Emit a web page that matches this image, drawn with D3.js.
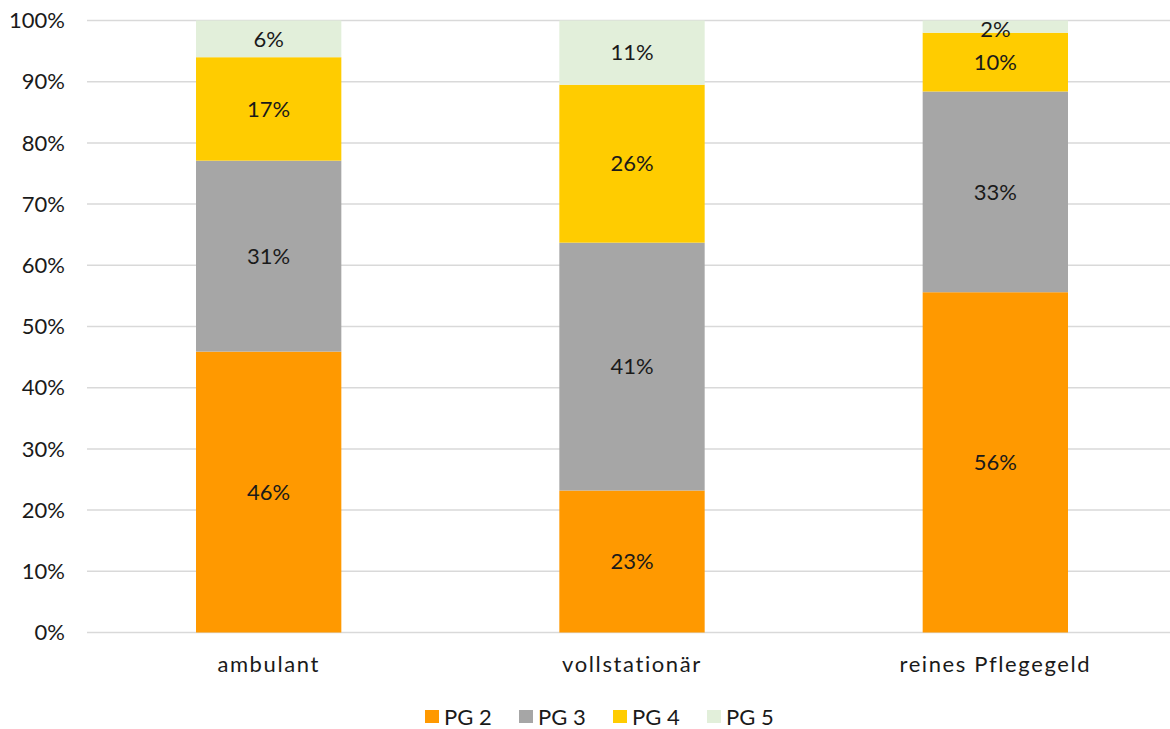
<!DOCTYPE html>
<html><head><meta charset="utf-8">
<script src="https://cdn.jsdelivr.net/npm/d3@7"></script>
<style>body{margin:0;background:#fff;} svg{display:block;} text{font-family:"Lato","Noto Sans",sans-serif;fill:#1a1a1a;}</style>
</head><body>
<svg id="c" width="1170" height="729"></svg>
<script>
const categories = ["ambulant", "vollstationär", "reines Pflegegeld"];
const seriesNames = ["PG 2", "PG 3", "PG 4", "PG 5"];
const pg2 = [45.9, 23.2, 55.6];
const pg3 = [31.2, 40.5, 32.8];
const pg4 = [16.9, 25.8, 9.6];
const pg5 = [6.0, 10.5, 2.0];
const labels2 = ["46%", "23%", "56%"];
const labels3 = ["31%", "41%", "33%"];
const labels4 = ["17%", "26%", "10%"];
const labels5 = ["6%", "11%", "2%"];
const yTicks = [0,10,20,30,40,50,60,70,80,90,100];
const colors = ["#FF9900", "#A6A6A6", "#FFCC00", "#E2EFDA"];

(function(){
const seriesVals = [pg2, pg3, pg4, pg5];
const seriesLabels = [labels2, labels3, labels4, labels5];
const svg = d3.select("#c");
const pLeft = 87, pRight = 1177, pTop = 20.5, pBottom = 632.5;
const fs = 22;
const x = d3.scaleBand().domain(categories).range([pLeft, pRight]);
const y = d3.scaleLinear().domain([0, 100]).range([pBottom, pTop]);
const bw = x.bandwidth() * 0.4;

svg.append("g").selectAll("line").data(yTicks).join("line")
  .attr("x1", pLeft).attr("x2", 1170)
  .attr("y1", d => y(d)).attr("y2", d => y(d))
  .attr("stroke", "#D9D9D9").attr("stroke-width", 1.5);

svg.append("g").selectAll("text").data(yTicks).join("text")
  .attr("x", 65).attr("y", d => y(d)).attr("dy", "0.35em")
  .attr("text-anchor", "end").attr("font-size", fs).text(d => d + "%");

const rows = categories.map((c, i) => {
  const o = {cat: c};
  seriesNames.forEach((s, j) => o[s] = seriesVals[j][i]);
  return o;
});
const stack = d3.stack().keys(seriesNames)(rows);
stack.forEach((layer, j) => {
  const g = svg.append("g");
  g.selectAll("rect").data(layer).join("rect")
    .attr("x", d => x(d.data.cat) + (x.bandwidth() - bw) / 2)
    .attr("width", bw)
    .attr("y", d => y(d[1]))
    .attr("height", d => y(d[0]) - y(d[1]))
    .attr("fill", colors[j]);
  g.selectAll("text").data(layer).join("text")
    .attr("x", d => x(d.data.cat) + x.bandwidth() / 2)
    .attr("y", d => {
      const mid = (y(d[0]) + y(d[1])) / 2;
      return (d[1] - d[0]) < 4 ? mid + 3 : mid;
    })
    .attr("dy", "0.35em").attr("text-anchor", "middle").attr("font-size", fs)
    .text((d, i) => seriesLabels[j][i]);
});

svg.append("g").selectAll("text").data(categories).join("text")
  .attr("x", d => x(d) + x.bandwidth() / 2).attr("y", 664).attr("dy", "0.35em")
  .attr("text-anchor", "middle").attr("font-size", fs).attr("letter-spacing", 1.6).text(d => d);

const lg = svg.append("g").selectAll("g").data(seriesNames).join("g")
  .attr("transform", (d, i) => `translate(${425 + i * 94},0)`);
lg.append("rect").attr("x", 0).attr("y", 710).attr("width", 14).attr("height", 13)
  .attr("fill", (d, i) => colors[i]);
lg.append("text").attr("x", 19).attr("y", 717).attr("dy", "0.35em")
  .attr("font-size", fs).text(d => d);
})();
</script>
</body></html>
